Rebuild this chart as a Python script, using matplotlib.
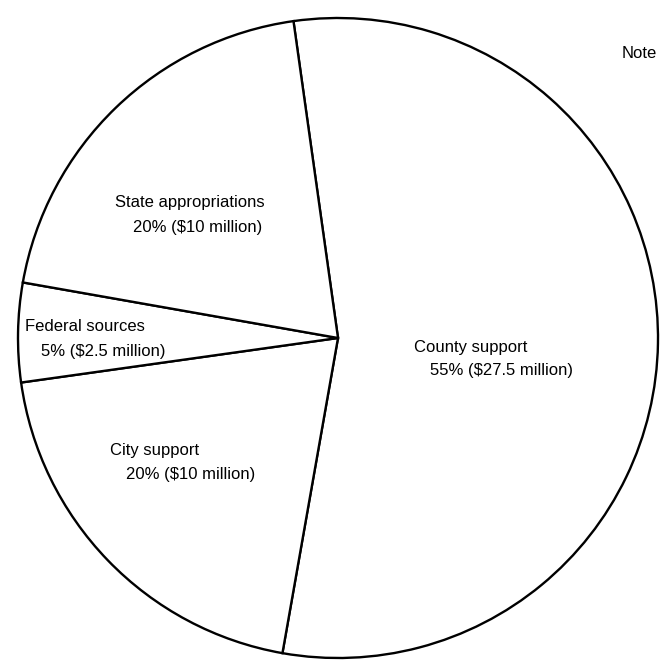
import matplotlib.pyplot as plt

# budget sources, clockwise from the top
sources = ["County support", "City support", "Federal sources", "State appropriations"]
shares = [55, 20, 5, 20]
amounts = [27.5, 10, 2.5, 10]   # $ million

# label spots in pixels (name line, value line), measured from top-left
name_xy = [(414, 348), (110, 451), (25, 327), (115, 203)]
value_xy = [(430, 371), (126, 474), (41, 352), (133, 228)]

W, H = 664, 662
cx, cy, r = 338, 338, 320


def to_data(px, py):
    return (px - cx) / r, (cy - py) / r


fig = plt.figure(figsize=(W / 100, H / 100), dpi=100)
ax = fig.add_axes([0, 0, 1, 1])

ax.pie(shares, startangle=98, counterclock=False,
       colors=["white"] * len(shares),
       wedgeprops=dict(edgecolor="black", linewidth=1.7))

font = dict(family="Liberation Sans", fontsize=12, va="center", ha="left")
for name, pct, amt, nxy, vxy in zip(sources, shares, amounts, name_xy, value_xy):
    ax.text(*to_data(*nxy), name, **font)
    ax.text(*to_data(*vxy), f"{pct}% (${amt:g} million)", **font)

ax.text(*to_data(622, 54), "Note", **font)

ax.set_xlim(-cx / r, (W - cx) / r)
ax.set_ylim((cy - H) / r, cy / r)
ax.set_aspect("auto")
ax.axis("off")

fig.savefig("out.png", dpi=100, facecolor="white")
